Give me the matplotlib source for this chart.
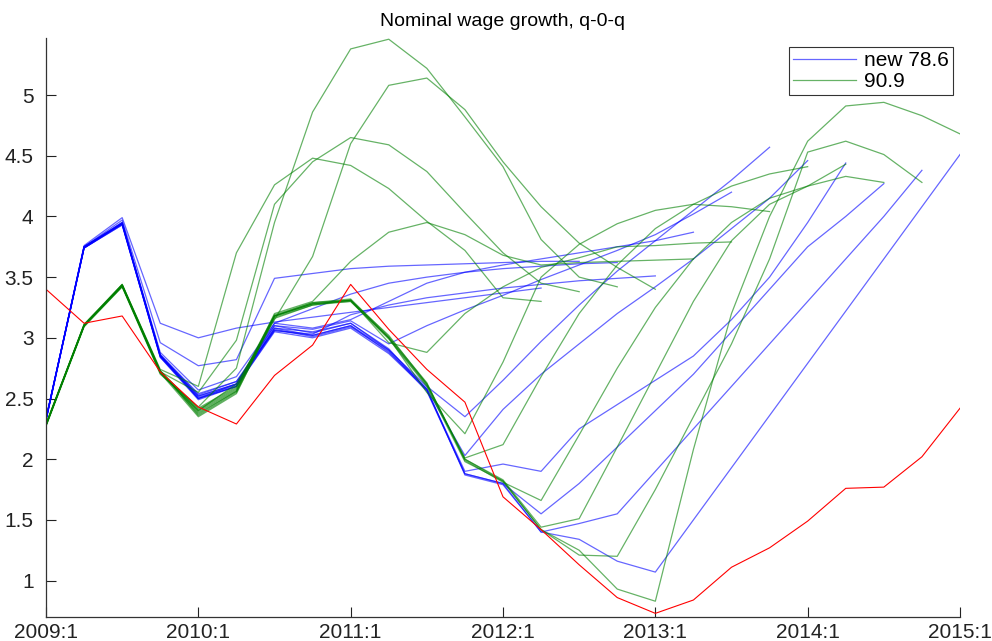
import matplotlib
matplotlib.use("Agg")
import matplotlib.pyplot as plt

# quarter labels (tick labels every 4 quarters)
tick_labels = ["2009:1", "2010:1", "2011:1", "2012:1", "2013:1", "2014:1", "2015:1"]

# red: outturn
actual = [3.40, 3.12, 3.18, 2.72, 2.43, 2.29, 2.69, 2.94, 3.44, 3.07, 2.74, 2.47,
          1.69, 1.42, 1.13, 0.86, 0.73, 0.84, 1.11, 1.27, 1.49, 1.76, 1.77, 2.02, 2.42]

# blue vintages ("new 78.6"), each starting 2009:1
blue_13 = [2.33, 3.76, 3.99, 3.12, 3.00, 3.08, 3.13, 3.17, 3.21, 3.25, 3.29, 3.33, 3.37, 3.41]
blue_14 = [2.32, 3.75, 3.97, 2.96, 2.77, 2.82, 3.49, 3.53, 3.57, 3.59, 3.60, 3.61, 3.62, 3.63, 3.63]
blue_15 = [2.33, 3.74, 3.95, 2.88, 2.57, 2.68, 3.12, 3.24, 3.36, 3.45, 3.50, 3.54, 3.57, 3.59, 3.61, 3.62]
blue_16 = [2.34, 3.74, 3.94, 2.86, 2.53, 2.64, 3.06, 3.03, 3.19, 3.27, 3.33, 3.37, 3.41, 3.44, 3.47, 3.49, 3.51]
blue_17 = [2.33, 3.75, 3.94, 2.85, 2.52, 2.62, 3.12, 3.08, 3.15, 3.30, 3.45, 3.54, 3.60, 3.65, 3.70, 3.75,
           3.80, 3.87]
blue_18 = [2.33, 3.75, 3.94, 2.84, 2.50, 2.62, 3.10, 3.07, 3.14, 2.95, 3.10, 3.23, 3.35, 3.48, 3.60, 3.72,
           3.85, 4.02, 4.20]
blue_19 = [2.33, 3.74, 3.93, 2.85, 2.50, 2.60, 3.08, 3.05, 3.12, 2.90, 2.60, 2.35, 2.65, 2.97, 3.27, 3.55,
           3.80, 4.05, 4.30, 4.57]
blue_20 = [2.32, 3.74, 3.93, 2.84, 2.49, 2.60, 3.06, 3.02, 3.10, 2.88, 2.58, 2.03, 2.41, 2.70, 2.95, 3.20,
           3.42, 3.65, 3.90, 4.15, 4.46]
blue_21 = [2.33, 3.75, 3.94, 2.85, 2.50, 2.60, 3.05, 3.00, 3.08, 2.87, 2.57, 1.90, 1.96, 1.90, 2.25, 2.45,
           2.65, 2.85, 3.15, 3.50, 3.95, 4.44]
blue_22 = [2.33, 3.75, 3.95, 2.86, 2.51, 2.61, 3.07, 3.01, 3.09, 2.89, 2.56, 1.88, 1.80, 1.55, 1.80, 2.10,
           2.40, 2.70, 3.05, 3.40, 3.75, 4.00, 4.27]
blue_23 = [2.32, 3.74, 3.94, 2.85, 2.52, 2.62, 3.08, 3.02, 3.10, 2.90, 2.58, 1.87, 1.79, 1.40, 1.47, 1.55,
           1.90, 2.25, 2.60, 2.95, 3.30, 3.65, 4.00, 4.38]
blue_24 = [2.33, 3.75, 3.95, 2.86, 2.54, 2.64, 3.10, 3.04, 3.12, 2.91, 2.57, 1.88, 1.80, 1.40, 1.34, 1.16,
           1.07, 1.50, 1.93, 2.36, 2.79, 3.22, 3.65, 4.08, 4.51]

# green vintages ("90.9")
green_13 = [2.29, 3.11, 3.44, 2.74, 2.60, 3.70, 4.26, 4.48, 4.42, 4.23, 3.96, 3.72, 3.33, 3.30]
green_14 = [2.28, 3.10, 3.43, 2.72, 2.55, 2.98, 4.10, 4.45, 4.65, 4.59, 4.37, 4.03, 3.70, 3.45, 3.38]
green_15 = [2.27, 3.09, 3.42, 2.70, 2.43, 2.75, 3.95, 4.86, 5.38, 5.46, 5.22, 4.82, 4.41, 3.81, 3.50, 3.42]
green_16 = [2.28, 3.10, 3.42, 2.71, 2.40, 2.62, 3.15, 3.67, 4.60, 5.08, 5.14, 4.88, 4.45, 4.08, 3.78, 3.58,
            3.40]
green_17 = [2.28, 3.11, 3.43, 2.72, 2.38, 2.56, 3.20, 3.30, 3.63, 3.87, 3.95, 3.85, 3.68, 3.60, 3.62, 3.63,
            3.64, 3.65]
green_18 = [2.29, 3.10, 3.44, 2.73, 2.36, 2.55, 3.16, 3.27, 3.31, 2.96, 2.88, 3.20, 3.42, 3.58, 3.66, 3.75,
            3.76, 3.78, 3.79]
green_19 = [2.28, 3.10, 3.43, 2.71, 2.35, 2.54, 3.18, 3.28, 3.30, 3.00, 2.55, 2.21, 2.80, 3.50, 3.77, 3.94,
            4.05, 4.10, 4.08, 4.04]
green_20 = [2.28, 3.10, 3.43, 2.72, 2.40, 2.58, 3.18, 3.29, 3.31, 3.02, 2.62, 2.01, 2.12, 2.68, 3.20, 3.60,
            3.90, 4.10, 4.25, 4.35, 4.41]
green_21 = [2.28, 3.10, 3.43, 2.72, 2.42, 2.60, 3.19, 3.29, 3.32, 3.01, 2.63, 1.99, 1.81, 1.66, 2.20, 2.75,
            3.25, 3.65, 3.95, 4.15, 4.25, 4.43]
green_22 = [2.29, 3.11, 3.44, 2.73, 2.41, 2.59, 3.18, 3.28, 3.31, 3.00, 2.61, 2.00, 1.83, 1.44, 1.51, 2.10,
            2.70, 3.30, 3.80, 4.10, 4.25, 4.33, 4.28]
green_23 = [2.28, 3.10, 3.43, 2.72, 2.39, 2.57, 3.17, 3.27, 3.30, 2.99, 2.60, 1.98, 1.82, 1.42, 1.21, 1.20,
            1.75, 2.35, 2.95, 3.65, 4.53, 4.62, 4.51, 4.28]
green_24 = [2.28, 3.10, 3.43, 2.72, 2.37, 2.56, 3.18, 3.28, 3.31, 3.00, 2.62, 2.00, 1.82, 1.42, 1.25, 0.93,
            0.83, 2.08, 3.20, 4.00, 4.62, 4.91, 4.94, 4.83, 4.68]

blue_lines = [blue_13, blue_14, blue_15, blue_16, blue_17, blue_18, blue_19, blue_20,
              blue_21, blue_22, blue_23, blue_24]
green_lines = [green_13, green_14, green_15, green_16, green_17, green_18, green_19, green_20,
               green_21, green_22, green_23, green_24]

plt.rcParams['font.family'] = ['Liberation Sans', 'DejaVu Sans']

fig = plt.figure(figsize=(9.92, 6.41), dpi=100)
ax = fig.add_axes([46 / 992, 24 / 641, (960 - 46) / 992, (617 - 38) / 641])

blue_col = (0.0, 0.0, 1.0)
green_col = (0.0, 0.5, 0.0)

hb = hg = None
for s in blue_lines:
    l, = ax.plot(range(len(s)), s, color=blue_col, lw=0.9, alpha=0.6)
    if hb is None:
        hb = l
for s in green_lines:
    l, = ax.plot(range(len(s)), s, color=green_col, lw=0.9, alpha=0.6)
    if hg is None:
        hg = l
ax.plot(range(len(actual)), actual, color=(1.0, 0.0, 0.0), lw=0.8)

ax.set_xlim(0, 24)
ax.set_ylim(0.70, 5.47)
ax.set_xticks(range(0, 25, 4))
ax.set_xticklabels(tick_labels)
ax.set_yticks([1, 1.5, 2, 2.5, 3, 3.5, 4, 4.5, 5])
ax.set_yticklabels(["1", "1.5", "2", "2.5", "3", "3.5", "4", "4.5", "5"])
ax.tick_params(direction='in', length=7, width=0.8, labelsize=15, colors='#222222', pad=4)
ax.tick_params(axis='y', pad=9)
for side in ['top', 'right']:
    ax.spines[side].set_visible(False)
for side in ['left', 'bottom']:
    ax.spines[side].set_color('#333333')
    ax.spines[side].set_linewidth(0.9)

ax.set_title("Nominal wage growth, q-0-q", fontsize=14, pad=9)

leg = ax.legend([hb, hg], ["new 78.6", "90.9"], loc='upper right',
                bbox_to_anchor=(953 / 992, 1 - 47 / 641), bbox_transform=fig.transFigure,
                fontsize=15, frameon=True, fancybox=False, handlelength=3.0,
                borderpad=0.2, labelspacing=0.1, handletextpad=0.4, borderaxespad=0)
leg.get_frame().set_edgecolor('black')
leg.get_frame().set_linewidth(0.8)

fig.savefig("out.png", dpi=100)
